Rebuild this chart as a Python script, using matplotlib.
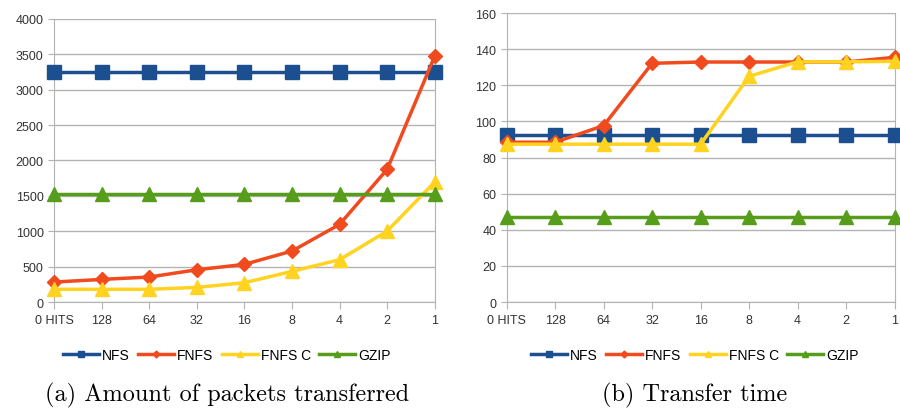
import matplotlib
matplotlib.use("Agg")
from matplotlib import pyplot as plt

categories = ["0 HITS", "128", "64", "32", "16", "8", "4", "2", "1"]

packets_nfs = [3250, 3250, 3250, 3250, 3250, 3250, 3250, 3250, 3250]
packets_fnfs = [282, 320, 353, 456, 532, 720, 1096, 1873, 3473]
packets_fnfs_c = [180, 180, 180, 207, 273, 433, 598, 1002, 1694]
packets_gzip = [1520, 1520, 1520, 1520, 1520, 1520, 1520, 1520, 1520]

time_nfs = [92.5, 92.5, 92.5, 92.5, 92.5, 92.5, 92.5, 92.5, 92.5]
time_fnfs = [88.5, 88.5, 97.7, 132.2, 132.9, 132.9, 132.9, 132.9, 135.5]
time_fnfs_c = [87.4, 87.4, 87.4, 87.4, 87.4, 125, 133, 133, 133.3]
time_gzip = [47, 47, 47, 47, 47, 47, 47, 47, 47]

series_names = ["NFS", "FNFS", "FNFS C", "GZIP"]
colors = ["#1c4f8f", "#f04a1e", "#ffd320", "#579d1c"]
markers = ["s", "D", "^", "^"]
marker_sizes = [10, 7, 10, 10]

plt.rcParams["font.family"] = ["Liberation Sans", "DejaVu Sans"]


def draw_panel(fig, ax, series, y_max, y_step, caption, center_x):
    x = list(range(len(categories)))
    for values, name, color, marker, ms in zip(series, series_names, colors, markers, marker_sizes):
        ax.plot(x, values, color=color, marker=marker, markersize=ms, linewidth=2.5,
                label=name, clip_on=False, zorder=3)
    ax.set_xlim(0, len(categories) - 1)
    ax.set_ylim(0, y_max)
    ax.set_xticks(x)
    ax.set_xticklabels(categories)
    ax.set_yticks(range(0, y_max + 1, y_step))
    ax.grid(axis="y", color="#b3b3b3", linewidth=1)
    ax.set_axisbelow(True)
    for side in ["left", "bottom", "right"]:
        ax.spines[side].set_color("#b3b3b3")
    ax.spines["top"].set_visible(False)
    ax.tick_params(axis="both", colors="#b3b3b3", labelcolor="#333333", labelsize=9, length=5)
    ax.tick_params(axis="y", length=4)
    ax.legend(loc="center", bbox_to_anchor=(center_x, 0.14), bbox_transform=fig.transFigure,
              ncol=4, frameon=False, fontsize=10, handlelength=2.6, handletextpad=0.2,
              columnspacing=0.6, markerscale=0.5)
    fig.text(center_x, 0.045, caption, ha="center", va="center", fontsize=17.5, family="cmr10")


fig = plt.figure(figsize=(9, 4.14), dpi=100)
ax1 = fig.add_axes([0.06, 0.268, 0.423, 0.684])
ax2 = fig.add_axes([0.563, 0.268, 0.431, 0.698])

draw_panel(fig, ax1, [packets_nfs, packets_fnfs, packets_fnfs_c, packets_gzip], 4000, 500,
           "(a) Amount of packets transferred", 0.252)
draw_panel(fig, ax2, [time_nfs, time_fnfs, time_fnfs_c, time_gzip], 160, 20,
           "(b) Transfer time", 0.772)

fig.savefig("out.png", dpi=100)
